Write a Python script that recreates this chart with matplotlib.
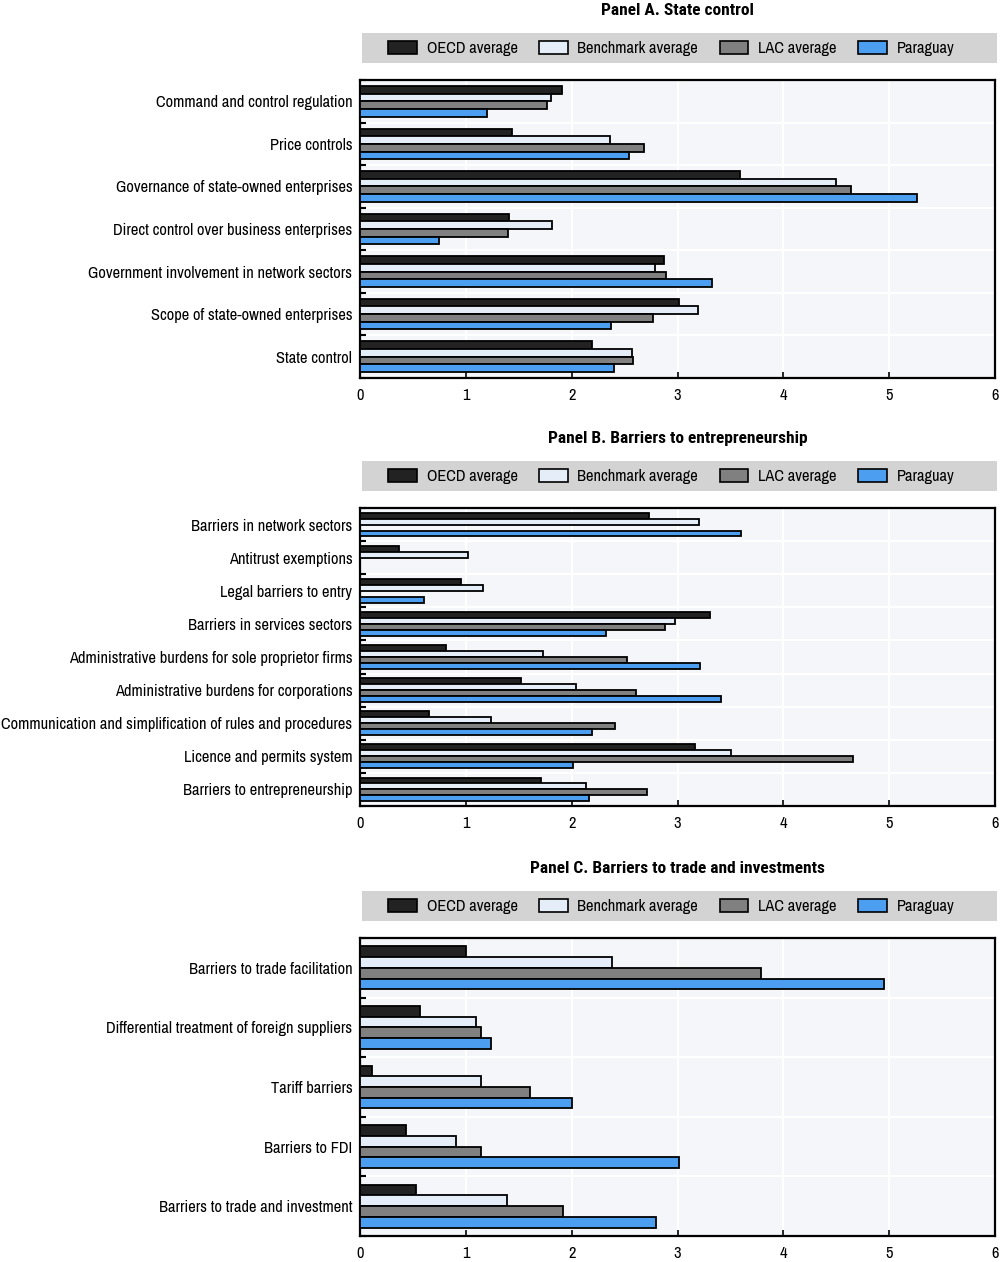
import numpy as np
import matplotlib
matplotlib.use("Agg")
import matplotlib.pyplot as plt
from matplotlib.patches import Patch, Rectangle

plt.rcParams['font.family'] = ['Archivo Narrow', 'Roboto Condensed', 'DejaVu Sans']
TITLE_FAMILY = ['Roboto Condensed', 'PT Sans Narrow', 'DejaVu Sans']

series_names = ["OECD average", "Benchmark average", "LAC average", "Paraguay"]
series_colors = ["#222222", "#e4edf8", "#808080", "#4b9ef0"]

# Panel A
cats_a = ["Command and control regulation", "Price controls",
          "Governance of state-owned enterprises", "Direct control over business enterprises",
          "Government involvement in network sectors", "Scope of state-owned enterprises",
          "State control"]
oecd_a = [1.91, 1.44, 3.59, 1.41, 2.87, 3.01, 2.19]
bench_a = [1.80, 2.36, 4.50, 1.81, 2.79, 3.19, 2.57]
lac_a = [1.77, 2.68, 4.64, 1.40, 2.89, 2.77, 2.58]
pry_a = [1.20, 2.54, 5.26, 0.75, 3.33, 2.37, 2.40]

# Panel B
cats_b = ["Barriers in network sectors", "Antitrust exemptions", "Legal barriers to entry",
          "Barriers in services sectors", "Administrative burdens for sole proprietor firms",
          "Administrative burdens for corporations",
          "Communication and simplification of rules and procedures",
          "Licence and permits system", "Barriers to entrepreneurship"]
oecd_b = [2.73, 0.37, 0.95, 3.31, 0.81, 1.52, 0.65, 3.17, 1.71]
bench_b = [3.20, 1.02, 1.16, 2.98, 1.73, 2.04, 1.24, 3.51, 2.14]
lac_b = [None, None, None, 2.88, 2.52, 2.61, 2.41, 4.66, 2.71]
pry_b = [3.60, None, 0.60, 2.32, 3.21, 3.41, 2.19, 2.01, 2.16]

# Panel C
cats_c = ["Barriers to trade facilitation", "Differential treatment of foreign suppliers",
          "Tariff barriers", "Barriers to FDI", "Barriers to trade and investment"]
oecd_c = [1.00, 0.57, 0.11, 0.43, 0.53]
bench_c = [2.38, 1.10, 1.14, 0.91, 1.39]
lac_c = [3.79, 1.14, 1.61, 1.14, 1.92]
pry_c = [4.95, 1.24, 2.00, 3.01, 2.80]

panels = [
    ("Panel A. State control", cats_a, [oecd_a, bench_a, lac_a, pry_a]),
    ("Panel B. Barriers to entrepreneurship", cats_b, [oecd_b, bench_b, lac_b, pry_b]),
    ("Panel C. Barriers to trade and investments", cats_c, [oecd_c, bench_c, lac_c, pry_c]),
]

W, H = 1000, 1262
fig = plt.figure(figsize=(W / 100, H / 100), dpi=100)
axes_px = [(80, 378), (508, 806), (938, 1236)]
left_px, right_px = 360, 995
FS = 11.8

for (title, cats, data), (top, bot) in zip(panels, axes_px):
    ax = fig.add_axes([left_px / W, 1 - bot / H, (right_px - left_px) / W, (bot - top) / H])
    ax.set_facecolor("#f4f6f9")
    n = len(cats)
    y = np.arange(n)
    bh = 0.18
    offsets = [-1.5 * bh, -0.5 * bh, 0.5 * bh, 1.5 * bh]
    for vals, col, off in zip(data, series_colors, offsets):
        for yi, v in zip(y, vals):
            if v is None:
                continue
            ax.barh(yi + off, v, height=bh, color=col, edgecolor="black", linewidth=1.3, zorder=3)
    ax.set_xlim(0, 6)
    ax.set_ylim(n - 0.5, -0.5)
    ax.set_yticks(y)
    ax.set_yticklabels(cats, fontsize=FS)
    ax.set_yticks(np.arange(n + 1) - 0.5, minor=True)
    ax.tick_params(axis="y", which="major", length=0, pad=5.5)
    ax.tick_params(axis="y", which="minor", length=4, width=1.5, direction="in", color="black")
    ax.set_xticks(range(7))
    ax.tick_params(axis="x", which="major", length=4, width=1.2, direction="in", labelsize=FS, pad=7)
    ax.grid(True, axis="x", which="major", color="white", linewidth=1.5, zorder=0)
    ax.grid(True, axis="y", which="minor", color="white", linewidth=1.5, zorder=0)
    ax.set_axisbelow(True)
    for sp in ax.spines.values():
        sp.set_linewidth(1.6)
        sp.set_color("black")
    # legend band
    ax.add_patch(Rectangle((0.003, 1.057), 1.0, 0.101, transform=ax.transAxes,
                           facecolor="#d3d3d3", edgecolor="none", clip_on=False, zorder=1))
    handles = [Patch(facecolor=c, edgecolor="black", linewidth=1.2) for c in series_colors]
    ax.legend(handles, series_names, ncol=4, loc="center",
              bbox_to_anchor=(0.49, 1.107), fontsize=FS, frameon=False,
              handlelength=1.75, handleheight=0.85,
              columnspacing=1.3, handletextpad=0.6, borderpad=0.3)
    ax.set_title(title, fontsize=12.5, fontweight="bold", pad=47, family=TITLE_FAMILY)

fig.savefig("out.png", dpi=100)
